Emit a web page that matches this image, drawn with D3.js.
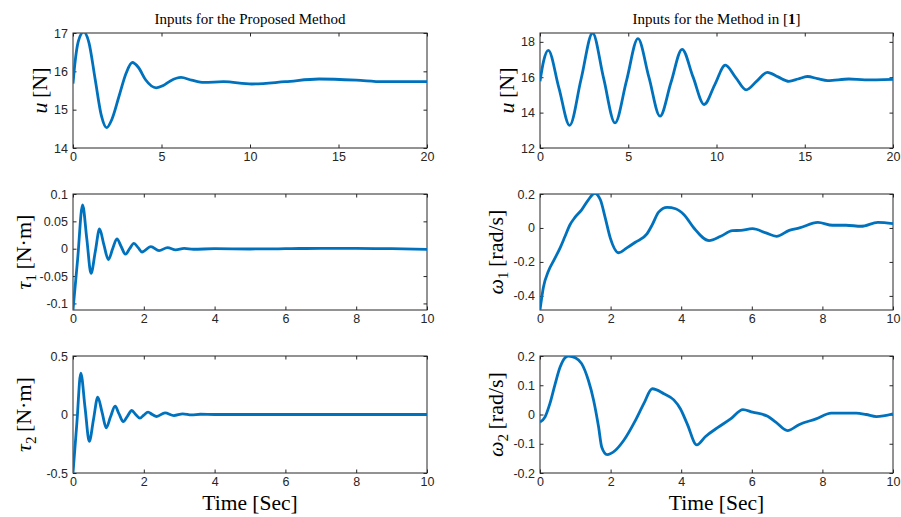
<!DOCTYPE html>
<html>
<head>
<meta charset="utf-8">
<script src="https://cdn.jsdelivr.net/npm/d3@7"></script>
<style>
  body { margin: 0; background: #fff; }
  svg { display: block; }
  .tick text { font-family: "Liberation Sans", Arial, Helvetica, sans-serif; font-size: 12.5px; fill: #262626; }
  .tick line { stroke: #262626; }
  .serif { font-family: "Liberation Serif", "Times New Roman", serif; fill: #000; }
</style>
</head>
<body>
<svg id="chart" width="901" height="517"></svg>
<script>
// ---- data: [time, value] ----
const uProposed = [
  [0, 15.68], [0.1, 16.17], [0.3, 16.78], [0.6, 17.03], [0.9, 16.75], [1.25, 15.8], [1.6, 14.85],
  [1.9, 14.53], [2.2, 14.75], [2.6, 15.35], [3.0, 15.95], [3.35, 16.23], [3.7, 16.1], [4.1, 15.78],
  [4.7, 15.57], [5.1, 15.63], [5.5, 15.75], [6.1, 15.84], [6.7, 15.77], [7.4, 15.71], [8.5, 15.73],
  [10.1, 15.67], [12, 15.73], [13.9, 15.8], [16, 15.77], [17.5, 15.73], [20, 15.73]
];
const uMethod = [
  [0, 15.77], [0.2, 16.9], [0.47, 17.52], [1.07, 15.4], [1.68, 13.28], [2.33, 15.9], [2.98, 18.5],
  [3.6, 15.96], [4.25, 13.42], [4.9, 15.8], [5.55, 18.18], [6.17, 16.0], [6.8, 13.8], [7.42, 15.7],
  [8.05, 17.58], [8.67, 16.02], [9.3, 14.46], [9.9, 15.57], [10.5, 16.68], [11.09, 15.98],
  [11.68, 15.29], [12.28, 15.78], [12.88, 16.28], [13.49, 16.02], [14.1, 15.77], [14.62, 15.9],
  [15.15, 16.04], [15.72, 15.92], [16.3, 15.81], [17.5, 15.9], [18.4, 15.85], [20, 15.88]
];
const tau1 = [
  [0, -0.112], [0.13, -0.02], [0.27, 0.08], [0.39, 0.018], [0.51, -0.045], [0.63, -0.005],
  [0.75, 0.036], [0.87, 0.008], [1.0, -0.02], [1.12, 0.0], [1.24, 0.018], [1.36, 0.004],
  [1.48, -0.01], [1.6, 0.0], [1.72, 0.0097], [1.84, 0.002], [1.95, -0.006], [2.2, 0.004],
  [2.43, -0.0035], [2.67, 0.002], [2.9, -0.002], [3.14, 0.0006], [3.4, -0.001], [4, 0],
  [5, -0.0005], [6, 0], [7, 0.0008], [8, 0.0008], [9, 0], [10, -0.0012]
];
const tau2 = [
  [0, -0.5], [0.11, -0.07], [0.22, 0.354], [0.34, 0.06], [0.46, -0.229], [0.58, -0.04],
  [0.7, 0.149], [0.82, 0.02], [0.94, -0.114], [1.06, -0.02], [1.19, 0.071], [1.3, 0.005],
  [1.42, -0.06], [1.54, -0.013], [1.66, 0.034], [1.77, 0.0], [1.89, -0.031], [2.0, -0.005],
  [2.12, 0.02], [2.24, 0.0], [2.36, -0.017], [2.6, 0.014], [2.85, -0.009], [3.1, 0.006],
  [3.35, -0.003], [3.6, 0.002], [4, 0], [10, 0]
];
const omega1 = [
  [0, -0.483], [0.095, -0.35], [0.24, -0.253], [0.38, -0.195], [0.57, -0.117], [0.71, -0.049],
  [0.85, 0.019], [0.99, 0.062], [1.18, 0.107], [1.37, 0.166], [1.55, 0.204], [1.71, 0.166],
  [1.85, 0.058], [1.99, -0.058], [2.23, -0.146], [2.46, -0.117], [2.7, -0.084], [3.03, -0.035],
  [3.18, 0.019], [3.36, 0.093], [3.6, 0.121], [3.84, 0.113], [4.08, 0.078], [4.36, 0],
  [4.79, -0.074], [5.12, -0.049], [5.45, -0.016], [5.69, -0.014], [6.02, -0.004], [6.4, -0.029],
  [6.7, -0.049], [7.06, -0.014], [7.35, 0], [7.87, 0.033], [8.29, 0.016], [8.67, 0.016],
  [9.1, 0.01], [9.57, 0.033], [10, 0.025]
];
const omega2 = [
  [0, -0.026], [0.14, -0.009], [0.28, 0.037], [0.43, 0.105], [0.57, 0.162], [0.71, 0.194],
  [0.81, 0.2], [1.0, 0.194], [1.18, 0.174], [1.37, 0.117], [1.52, 0.048], [1.66, -0.043],
  [1.75, -0.112], [1.9, -0.137], [2.13, -0.123], [2.37, -0.089], [2.7, -0.021], [2.94, 0.037],
  [3.18, 0.088], [3.51, 0.071], [3.79, 0.05], [3.98, 0.019], [4.17, -0.032], [4.44, -0.104],
  [4.69, -0.075], [5.02, -0.046], [5.4, -0.015], [5.75, 0.017], [6.02, 0.008], [6.45, -0.006],
  [6.68, -0.026], [7.01, -0.055], [7.35, -0.034], [7.82, -0.015], [8.25, 0.005], [8.96, 0.005],
  [9.24, 0], [9.53, -0.007], [10, 0.002]
];

// ---- ticks ----
const ticks20 = [0, 5, 10, 15, 20];
const ticks10 = [0, 2, 4, 6, 8, 10];
const uProposedTicks = [14, 15, 16, 17];
const uMethodTicks = [12, 14, 16, 18];
const tau1Ticks = [-0.1, -0.05, 0, 0.05, 0.1];
const tau2Ticks = [-0.5, 0, 0.5];
const omega1Ticks = [-0.4, -0.2, 0, 0.2];
const omega2Ticks = [-0.2, -0.1, 0, 0.1, 0.2];

const svg = d3.select("#chart");
const cols = [[73, 427], [540, 893]];
const rows = [[33, 148], [194, 310], [356, 473]];
const blue = "#0072BD";
const tick = 3.5;

const panels = [
  { data: uProposed, xMax: 20, xTicks: ticks20, yDomain: [14, 17], yTicks: uProposedTicks, col: 0, row: 0,
    label: [["u", "i"], ["\u2009[N]"]], labelX: 47 },
  { data: uMethod, xMax: 20, xTicks: ticks20, yDomain: [12, 18.5], yTicks: uMethodTicks, col: 1, row: 0,
    label: [["u", "i"], ["\u2009[N]"]], labelX: 514 },
  { data: tau1, xMax: 10, xTicks: ticks10, yDomain: [-0.112, 0.1], yTicks: tau1Ticks, col: 0, row: 1,
    label: [["τ", "i"], ["1", "sub"], ["\u2009[N·m]"]], labelX: 31 },
  { data: omega1, xMax: 10, xTicks: ticks10, yDomain: [-0.483, 0.2], yTicks: omega1Ticks, col: 1, row: 1,
    label: [["ω", "i"], ["1", "sub"], ["\u2009[rad/s]"]], labelX: 503 },
  { data: tau2, xMax: 10, xTicks: ticks10, yDomain: [-0.5, 0.5], yTicks: tau2Ticks, col: 0, row: 2,
    label: [["τ", "i"], ["2", "sub"], ["\u2009[N·m]"]], labelX: 31 },
  { data: omega2, xMax: 10, xTicks: ticks10, yDomain: [-0.2, 0.2], yTicks: omega2Ticks, col: 1, row: 2,
    label: [["ω", "i"], ["2", "sub"], ["\u2009[rad/s]"]], labelX: 503 }
];

panels.forEach((p, i) => {
  const [x0, x1] = cols[p.col];
  const [y0, y1] = rows[p.row];
  const w = x1 - x0, h = y1 - y0;
  const x = d3.scaleLinear().domain([0, p.xMax]).range([0, w]);
  const y = d3.scaleLinear().domain(p.yDomain).range([h, 0]);
  const g = svg.append("g").attr("transform", `translate(${x0},${y0})`);

  g.append("clipPath").attr("id", "clip" + i)
    .append("rect").attr("width", w).attr("height", h);

  const fmt = d => String(d);
  g.append("g").call(d3.axisLeft(y).tickValues(p.yTicks).tickFormat(fmt).tickSizeInner(-tick).tickSizeOuter(0).tickPadding(5));
  g.append("g").attr("transform", `translate(${w},0)`)
    .call(d3.axisRight(y).tickValues(p.yTicks).tickFormat("").tickSizeInner(-tick).tickSizeOuter(0));
  g.append("g").attr("transform", `translate(0,${h})`)
    .call(d3.axisBottom(x).tickValues(p.xTicks).tickFormat(fmt).tickSizeInner(-tick).tickSizeOuter(0).tickPadding(4.5));
  g.append("g")
    .call(d3.axisTop(x).tickValues(p.xTicks).tickFormat("").tickSizeInner(-tick).tickSizeOuter(0));
  g.selectAll(".domain").remove();

  g.append("rect").attr("width", w).attr("height", h)
    .attr("fill", "none").attr("stroke", "#262626").attr("stroke-width", 1);

  const line = d3.line().x(d => x(d[0])).y(d => y(d[1])).curve(d3.curveMonotoneX);
  g.append("path").datum(p.data)
    .attr("clip-path", `url(#clip${i})`)
    .attr("d", line)
    .attr("fill", "none").attr("stroke", blue).attr("stroke-width", 2.8)
    .attr("stroke-linejoin", "round");

  // y label
  const t = svg.append("text").attr("class", "serif")
    .attr("transform", `translate(${p.labelX},${(y0 + y1) / 2}) rotate(-90)`)
    .attr("text-anchor", "middle").attr("font-size", 22);
  let shifted = false;
  p.label.forEach(([s, st]) => {
    const ts = t.append("tspan").text(s);
    if (st === "i") ts.attr("font-style", "italic");
    if (st === "sub") { ts.attr("font-size", 15).attr("dy", 5); shifted = true; }
    else if (shifted) { ts.attr("dy", -5); shifted = false; }
  });

  if (p.row === 2) {
    svg.append("text").attr("class", "serif")
      .attr("x", (x0 + x1) / 2).attr("y", 510)
      .attr("text-anchor", "middle").attr("font-size", 21.5)
      .text("Time [Sec]");
  }
});

// titles
svg.append("text").attr("class", "serif")
  .attr("x", (cols[0][0] + cols[0][1]) / 2).attr("y", 24)
  .attr("text-anchor", "middle").attr("font-size", 15)
  .text("Inputs for the Proposed Method");
const t2 = svg.append("text").attr("class", "serif")
  .attr("x", (cols[1][0] + cols[1][1]) / 2).attr("y", 24)
  .attr("text-anchor", "middle").attr("font-size", 15);
t2.append("tspan").text("Inputs for the Method in [");
t2.append("tspan").attr("font-weight", "bold").text("1");
t2.append("tspan").text("]");
</script>
</body>
</html>
